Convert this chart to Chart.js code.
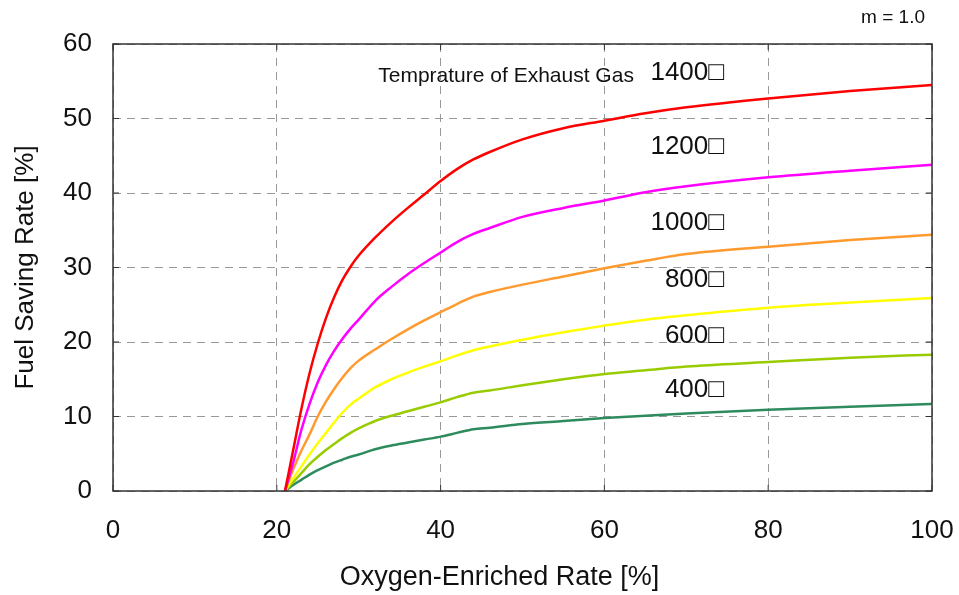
<!DOCTYPE html>
<html>
<head>
<meta charset="utf-8">
<script src="https://cdn.jsdelivr.net/npm/chart.js@4.4.0/dist/chart.umd.min.js"></script>
<style>
  html, body { margin: 0; padding: 0; background: #fff; }
  #wrap { width: 959px; height: 595px; }
</style>
</head>
<body>
<div id="wrap"><canvas id="chart"></canvas></div>
<script>
// oxygen-enriched rate [%]
const oxygenRate = [21, 22, 23, 24, 25, 26, 27, 28, 29, 30, 32, 34, 36, 38, 40, 42, 44, 46, 50, 55, 60, 65, 70, 80, 90, 100];

// fuel saving rate [%] per exhaust gas temperature
const saving1400 = [0, 5.5, 11.0, 15.8, 19.8, 23.2, 26.0, 28.3, 30.1, 31.6, 34.0, 36.1, 38.0, 39.8, 41.6, 43.2, 44.5, 45.5, 47.2, 48.7, 49.7, 50.7, 51.5, 52.7, 53.7, 54.5];
const saving1200 = [0, 3.8, 8.2, 11.7, 14.6, 16.9, 18.8, 20.4, 21.8, 23.0, 25.5, 27.4, 29.1, 30.6, 32.0, 33.4, 34.5, 35.3, 36.8, 38.0, 39.0, 40.1, 40.9, 42.1, 43.0, 43.8];
const saving1000 = [0, 2.9, 5.4, 7.6, 10.0, 12.0, 13.7, 15.2, 16.5, 17.5, 19.0, 20.4, 21.7, 22.9, 24.0, 25.1, 26.1, 26.7, 27.7, 28.8, 29.9, 30.9, 31.8, 32.8, 33.7, 34.4];
const saving800  = [0, 1.7, 3.3, 4.9, 6.4, 7.8, 9.2, 10.5, 11.6, 12.4, 13.9, 15.0, 15.9, 16.7, 17.4, 18.2, 18.9, 19.4, 20.3, 21.3, 22.2, 23.0, 23.6, 24.6, 25.3, 25.9];
const saving600  = [0, 1.2, 2.4, 3.6, 4.6, 5.5, 6.3, 7.1, 7.8, 8.4, 9.4, 10.1, 10.7, 11.3, 11.9, 12.6, 13.2, 13.5, 14.2, 15.0, 15.7, 16.2, 16.7, 17.3, 17.9, 18.3];
const saving400  = [0, 0.8, 1.5, 2.2, 2.8, 3.3, 3.8, 4.2, 4.6, 4.9, 5.6, 6.1, 6.5, 6.9, 7.3, 7.8, 8.3, 8.5, 9.0, 9.4, 9.8, 10.1, 10.4, 10.9, 11.3, 11.7];

const seriesNames = ['1400□', '1200□', '1000□', '800□', '600□', '400□'];
const seriesValues = [saving1400, saving1200, saving1000, saving800, saving600, saving400];
const seriesColors = ['#ff0000', '#ff00ff', '#ff9a2e', '#ffff00', '#99cc00', '#2e8b5e'];
// where each curve label sits, in data units (right edge x, middle y)
const labelY = [56.1, 46.2, 36.0, 28.3, 20.8, 13.6];
const labelX = 74.6;

const xTicks = [0, 20, 40, 60, 80, 100];
const yTicks = [0, 10, 20, 30, 40, 50, 60];

const FONT = "'Liberation Sans', Arial, Helvetica, sans-serif";

const datasets = seriesNames.map((name, i) => ({
    label: name,
    data: oxygenRate.map((x, j) => ({ x: x, y: seriesValues[i][j] })),
    borderColor: seriesColors[i],
    borderWidth: 2.5,
    pointRadius: 0,
    fill: false,
    cubicInterpolationMode: 'monotone'
}));

// frame, inward tick marks and the text inside the plot
const decorations = {
    id: 'decorations',
    afterDatasetsDraw(chart) {
        const ctx = chart.ctx;
        const a = chart.chartArea;
        const xs = chart.scales.x;
        const ys = chart.scales.y;
        ctx.save();
        ctx.strokeStyle = '#333';
        ctx.lineWidth = 1.5;
        ctx.strokeRect(a.left, a.top, a.right - a.left, a.bottom - a.top);
        ctx.lineWidth = 1;
        ctx.beginPath();
        xTicks.forEach(v => {
            const px = xs.getPixelForValue(v);
            ctx.moveTo(px, a.bottom); ctx.lineTo(px, a.bottom - 6);
            ctx.moveTo(px, a.top); ctx.lineTo(px, a.top + 6);
        });
        yTicks.forEach(v => {
            const py = ys.getPixelForValue(v);
            ctx.moveTo(a.left, py); ctx.lineTo(a.left + 6, py);
            ctx.moveTo(a.right, py); ctx.lineTo(a.right - 6, py);
        });
        ctx.stroke();

        ctx.fillStyle = '#111';
        ctx.textBaseline = 'middle';
        ctx.textAlign = 'right';
        ctx.font = '26px ' + FONT;
        seriesNames.forEach((name, i) => {
            ctx.fillText(name, xs.getPixelForValue(labelX), ys.getPixelForValue(labelY[i]));
        });
        ctx.font = '21px ' + FONT;
        ctx.fillText('Temprature of Exhaust Gas', xs.getPixelForValue(63.6), ys.getPixelForValue(55.7));
        ctx.font = '19px ' + FONT;
        ctx.fillText('m = 1.0', a.right - 7, a.top - 26);

        // x axis title sits a little left of the plot centre in the original
        ctx.textAlign = 'center';
        ctx.font = '27px ' + FONT;
        ctx.fillText('Oxygen-Enriched Rate [%]', (a.left + a.right) / 2 - 23, chart.height - 17);
        ctx.restore();
    }
};

new Chart(document.getElementById('chart'), {
    type: 'line',
    data: { datasets: datasets },
    options: {
        responsive: true,
        maintainAspectRatio: false,
        animation: false,
        layout: { padding: { top: 44, right: 27, left: 0, bottom: 0 } },
        plugins: {
            legend: { display: false },
            tooltip: { enabled: false }
        },
        scales: {
            x: {
                type: 'linear',
                min: 0,
                max: 100,
                afterFit: s => { s.height = 104; s.paddingLeft = 0; s.paddingRight = 0; },
                afterBuildTicks: s => { s.ticks = xTicks.map(v => ({ value: v })); },
                grid: { color: '#999', lineWidth: 1, drawTicks: false },
                border: { display: false, dash: [8, 6] },
                ticks: { color: '#111', padding: 24, font: { family: FONT, size: 26 } },
                title: { display: false }
            },
            y: {
                type: 'linear',
                min: 0,
                max: 60,
                afterFit: s => { s.width = 113; s.paddingTop = 0; s.paddingBottom = 0; },
                afterBuildTicks: s => { s.ticks = yTicks.map(v => ({ value: v })); },
                grid: { color: '#999', lineWidth: 1, drawTicks: false },
                border: { display: false, dash: [8, 6] },
                ticks: { color: '#111', padding: 21, font: { family: FONT, size: 26 } },
                title: {
                    display: true,
                    text: 'Fuel Saving Rate [%]',
                    color: '#111',
                    font: { family: FONT, size: 26 },
                    padding: { top: 10, bottom: 0 }
                }
            }
        }
    },
    plugins: [decorations]
});
</script>
</body>
</html>
